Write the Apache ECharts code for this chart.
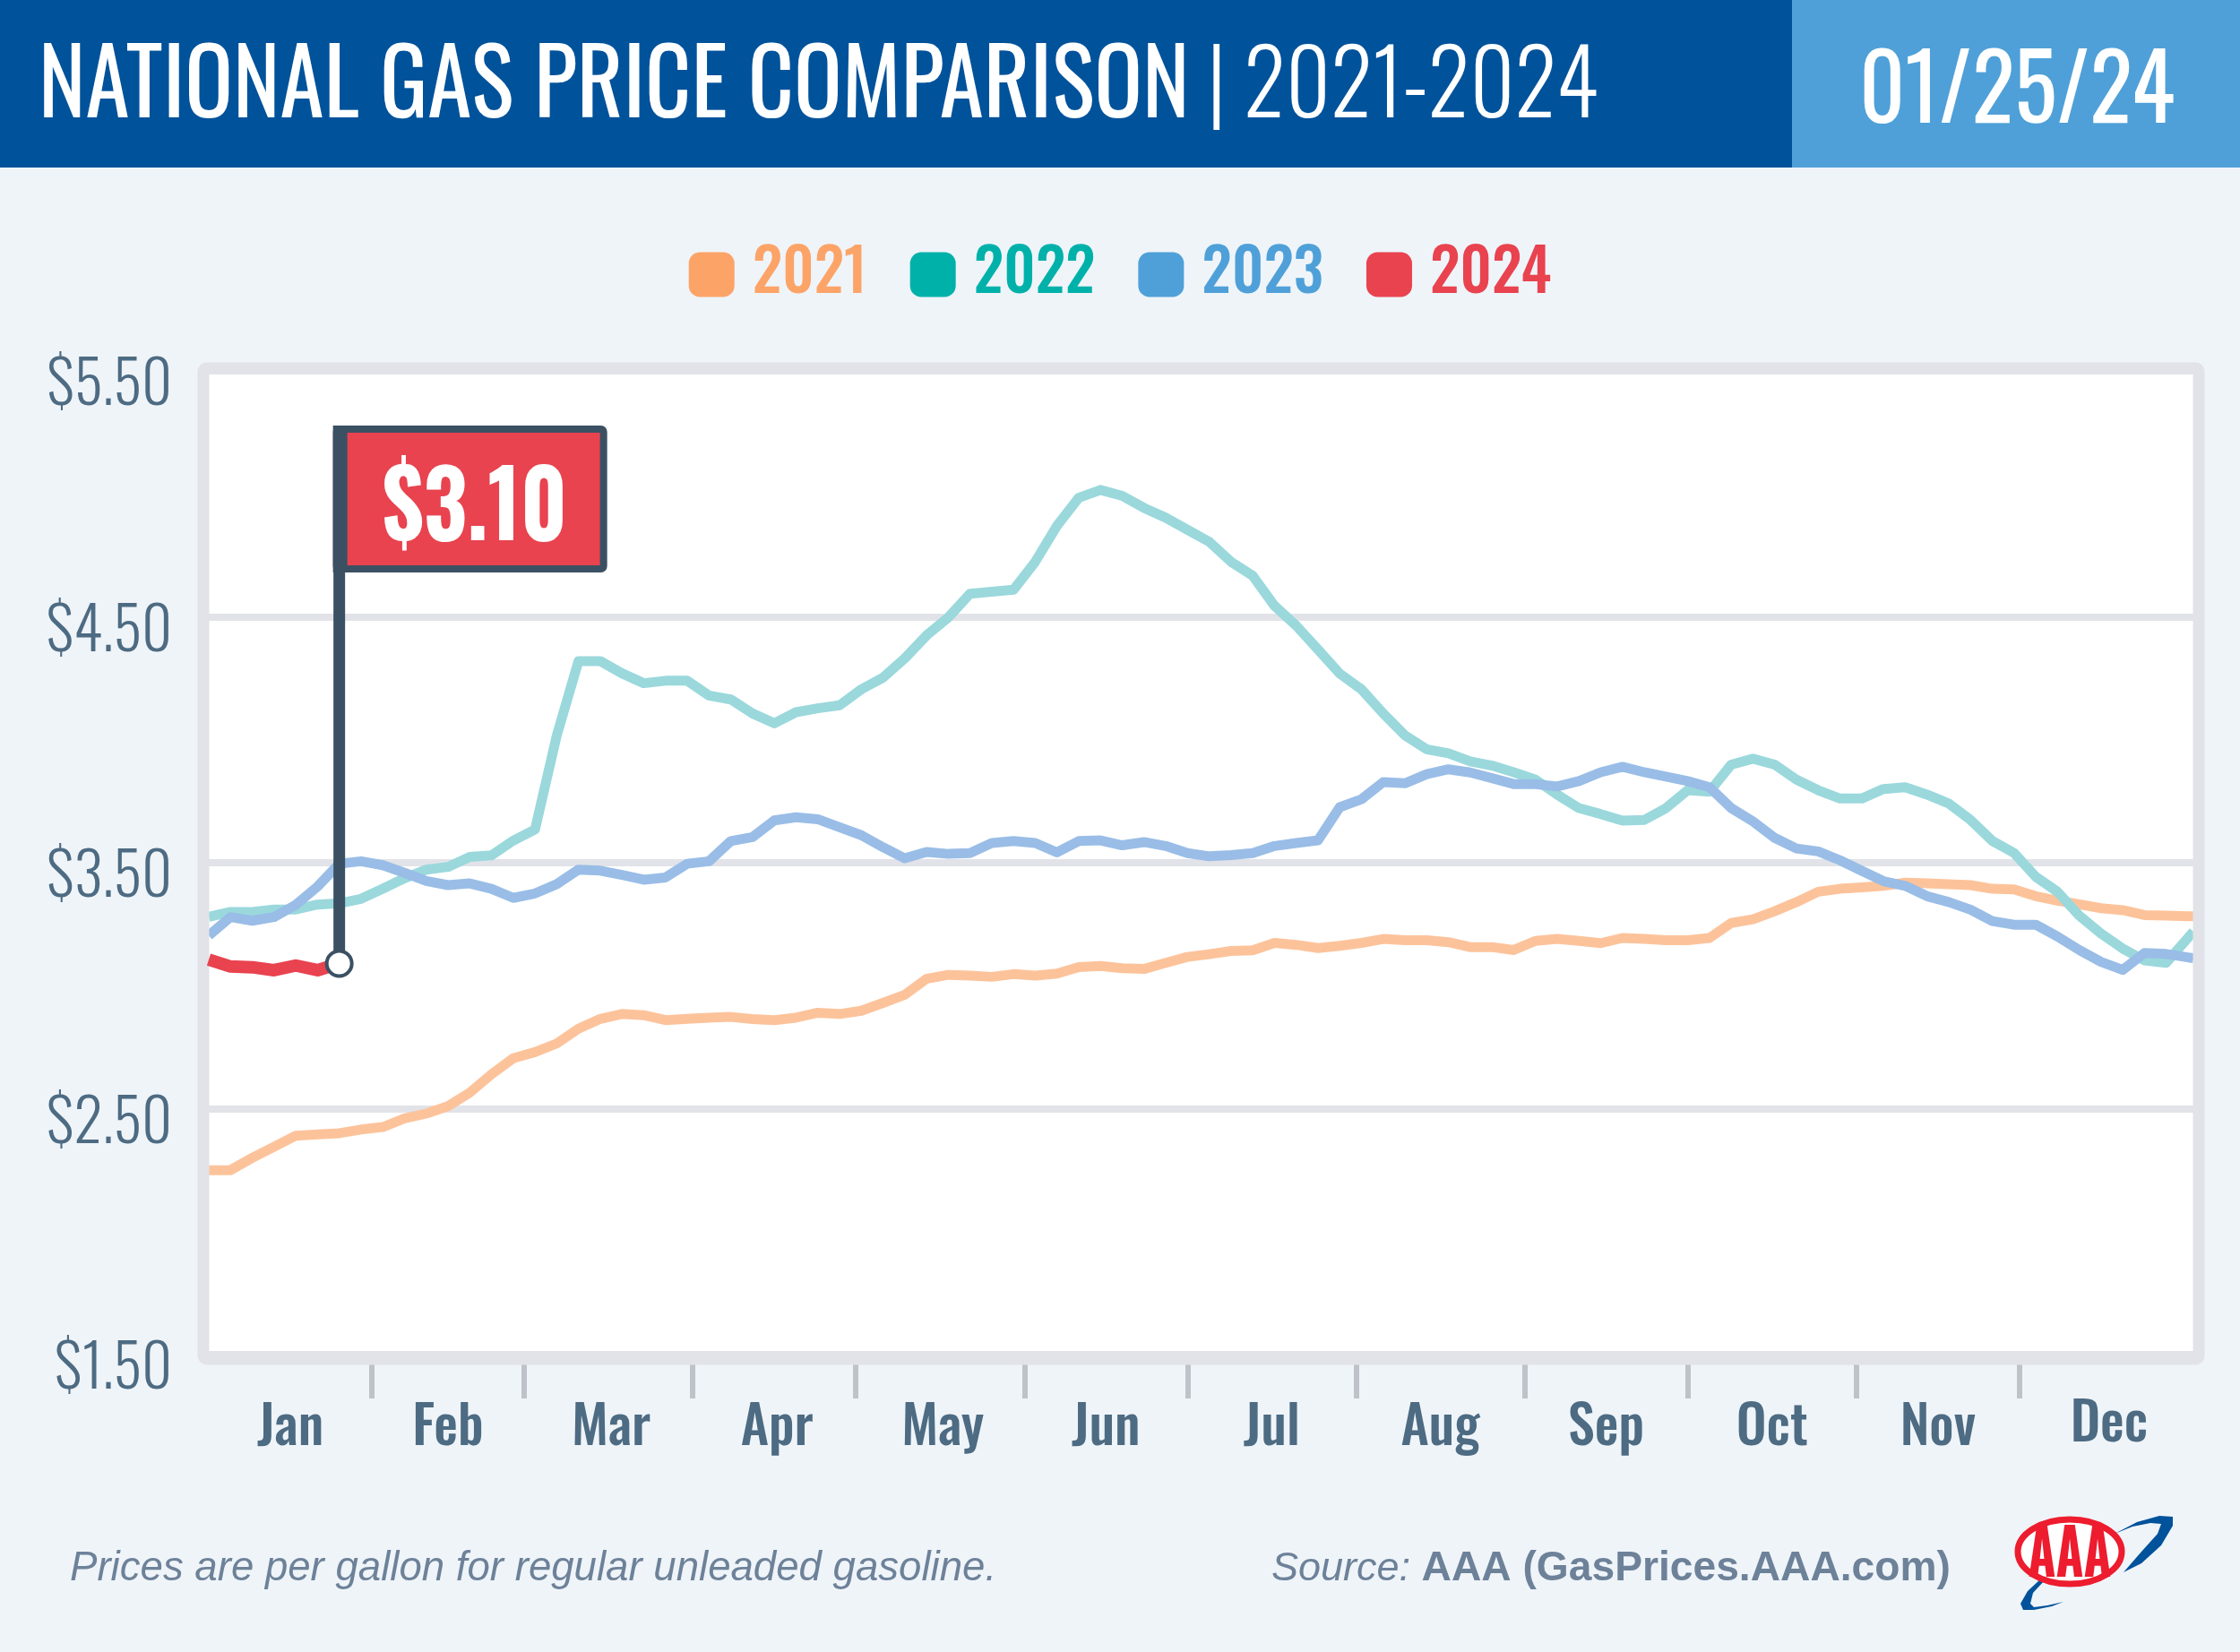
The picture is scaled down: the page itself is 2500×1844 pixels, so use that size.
<!DOCTYPE html>
<html>
<head>
<meta charset="utf-8">
<title>National Gas Price Comparison</title>
<script src="https://cdn.jsdelivr.net/npm/echarts@6/dist/echarts.min.js"></script>
<style>
html,body{margin:0;padding:0;background:#eff4f9;}
#main{width:2500px;height:1844px;}
</style>
</head>
<body>
<div id="main"></div>
<script>
// day of the year for each reading
var days = [1,5,9,13,17,21,25,29,33,37,41,45,49,53,57,61,65,69,73,77,81,85,89,93,97,101,105,109,113,117,121,125,129,133,137,141,145,149,153,157,161,165,169,173,177,181,185,189,193,197,201,205,209,213,217,221,225,229,233,237,241,245,249,253,257,261,265,269,273,277,281,285,289,293,297,301,305,309,313,317,321,325,329,333,337,341,345,349,353,357,361,365,366];
var prices2021 = [2.25,2.25,2.30,2.345,2.39,2.395,2.40,2.415,2.425,2.46,2.48,2.51,2.565,2.64,2.705,2.73,2.765,2.825,2.865,2.885,2.88,2.86,2.865,2.87,2.873,2.864,2.86,2.87,2.89,2.885,2.898,2.93,2.963,3.028,3.044,3.041,3.036,3.047,3.041,3.049,3.076,3.08,3.071,3.068,3.093,3.117,3.128,3.141,3.144,3.174,3.166,3.153,3.162,3.174,3.19,3.185,3.185,3.177,3.157,3.157,3.145,3.182,3.19,3.182,3.173,3.194,3.19,3.185,3.185,3.194,3.255,3.27,3.303,3.34,3.382,3.394,3.40,3.406,3.419,3.416,3.413,3.409,3.394,3.392,3.364,3.346,3.331,3.315,3.307,3.287,3.285,3.282,3.282];
var prices2022 = [3.28,3.30,3.30,3.31,3.31,3.33,3.335,3.353,3.394,3.437,3.472,3.483,3.524,3.53,3.59,3.635,4.017,4.32,4.32,4.27,4.23,4.24,4.24,4.18,4.164,4.107,4.067,4.112,4.128,4.14,4.205,4.253,4.331,4.424,4.497,4.594,4.602,4.61,4.724,4.87,4.984,5.016,4.992,4.943,4.903,4.854,4.805,4.724,4.667,4.545,4.464,4.367,4.269,4.205,4.107,4.018,3.961,3.945,3.912,3.895,3.868,3.838,3.777,3.722,3.698,3.671,3.674,3.722,3.795,3.789,3.899,3.923,3.899,3.838,3.795,3.761,3.761,3.80,3.807,3.777,3.741,3.674,3.589,3.54,3.443,3.382,3.285,3.212,3.151,3.103,3.093,3.194,3.22];
var prices2023 = [3.204,3.279,3.264,3.279,3.329,3.403,3.496,3.506,3.49,3.459,3.426,3.409,3.416,3.394,3.357,3.375,3.413,3.472,3.468,3.45,3.431,3.44,3.496,3.506,3.588,3.604,3.672,3.685,3.677,3.644,3.612,3.563,3.518,3.544,3.536,3.539,3.58,3.588,3.58,3.542,3.588,3.591,3.571,3.584,3.568,3.539,3.526,3.531,3.539,3.568,3.58,3.591,3.726,3.758,3.828,3.823,3.86,3.88,3.867,3.844,3.82,3.82,3.81,3.832,3.868,3.89,3.868,3.85,3.832,3.807,3.722,3.668,3.601,3.558,3.546,3.51,3.467,3.425,3.406,3.364,3.34,3.309,3.263,3.248,3.248,3.20,3.145,3.097,3.064,3.133,3.129,3.115,3.112];
var prices2024 = [3.106,3.078,3.075,3.063,3.082,3.063,3.09];
var months = ['Jan','Feb','Mar','Apr','May','Jun','Jul','Aug','Sep','Oct','Nov','Dec'];
var monthMids = [16,45,75,105.5,136,166,196.5,227.5,258,288.5,319,350.5];
var monthTicks = [31,59,90,120,151,181,212,243,273,304,334];
var priceTicks = [1.5,2.5,3.5,4.5,5.5];
var yearNames = ['2021','2022','2023','2024'];
var legendColors = ['#fca468','#00b1aa','#4fa0d8','#e8434f'];
var lineColors = ['#fcc39b','#9ad8dc','#99bde6','#e8434f'];

var narrow = 'Oswald,"Roboto Condensed",sans-serif';
var plain = '"Liberation Sans",Arial,sans-serif';
var slate = '#4d6b82';
var flagDark = '#3b5163';

function pairs(values) {
    var arr = [];
    for (var i = 0; i < values.length; i++) {
        arr.push([days[i], values[i]]);
    }
    return arr;
}

function makeSeries(i, values) {
    return {
        name: yearNames[i],
        type: 'line',
        data: pairs(values),
        showSymbol: false,
        symbol: 'none',
        smooth: false,
        silent: true,
        clip: true,
        z: 2 + i,
        lineStyle: {color: lineColors[i], width: i == 3 ? 14 : 11, join: 'round', cap: 'butt'},
        itemStyle: {color: legendColors[i]}
    };
}

var legendData = [];
for (var n = 0; n < yearNames.length; n++) {
    legendData.push({name: yearNames[n], textStyle: {color: legendColors[n]}});
}

var chart = echarts.init(document.getElementById('main'), null, {renderer: 'canvas'});

var option = {
    animation: false,
    backgroundColor: '#eff4f9',
    grid: {left: 233, right: 52, top: 414, bottom: 332, show: true, backgroundColor: '#fff', borderWidth: 0},
    legend: {
        data: legendData,
        top: 268,
        left: 'center',
        itemWidth: 51,
        itemHeight: 50,
        itemGap: 48,
        icon: 'roundRect',
        selectedMode: false,
        textStyle: {fontFamily: narrow, fontSize: 67, fontWeight: 500, padding: [0, 0, 12, 15]}
    },
    xAxis: {
        type: 'value',
        min: 1,
        max: 366,
        splitLine: {show: false},
        axisLine: {show: false},
        axisTick: {show: true, customValues: monthTicks, length: 49, lineStyle: {color: '#bfc3c9', width: 6}},
        axisLabel: {
            customValues: monthMids,
            hideOverlap: false,
            margin: 53,
            color: slate,
            fontFamily: narrow,
            fontWeight: 500,
            fontSize: 60,
            rich: {
                dec: {color: slate, fontFamily: narrow, fontWeight: 500, fontSize: 60, lineHeight: 52}
            },
            formatter: function (value) {
                var name = months[monthMids.indexOf(value)];
                return name == 'Dec' ? '{dec|' + name + '}' : name;
            }
        }
    },
    yAxis: {
        type: 'value',
        min: 1.5,
        max: 5.5,
        axisLine: {show: false},
        axisTick: {show: false, customValues: priceTicks},
        splitLine: {show: true, lineStyle: {color: '#e1e3e8', width: 8}},
        axisLabel: {
            customValues: priceTicks,
            margin: 41,
            color: slate,
            fontFamily: narrow,
            fontWeight: 300,
            fontSize: 66,
            verticalAlign: 'top',
            lineHeight: 36,
            formatter: function (value) {
                return '$' + value.toFixed(2);
            }
        }
    },
    series: [
        makeSeries(0, prices2021),
        makeSeries(1, prices2022),
        makeSeries(2, prices2023),
        makeSeries(3, prices2024)
    ]
};
chart.setOption(option);

// header, frame, flag and logo go on top
function drawExtras() {
    var last = prices2024.length - 1;
    var pt = chart.convertToPixel({gridIndex: 0}, [days[last], prices2024[last]]);
    chart.setOption({
        graphic: [
            {type: 'rect', z: 10, shape: {x: 0, y: 0, width: 2000, height: 187}, style: {fill: '#00529b'}},
            {type: 'rect', z: 10, shape: {x: 2000, y: 0, width: 500, height: 187}, style: {fill: '#4fa0d8'}},
            {
                type: 'text', z: 11, x: 43, y: 100, scaleX: 0.967,
                style: {
                    text: '{a|NATIONAL GAS PRICE COMPARISON}{b| | 2021-2024}',
                    verticalAlign: 'middle',
                    rich: {
                        a: {fill: '#fff', fontFamily: narrow, fontSize: 103},
                        b: {fill: '#fff', fontFamily: narrow, fontSize: 100, fontWeight: 300}
                    }
                }
            },
            {
                type: 'text', z: 11, x: 2251, y: 106, scaleX: 0.975,
                style: {text: '01/25/24', fill: '#fff', fontFamily: narrow, fontSize: 102, align: 'center', verticalAlign: 'middle'}
            },
            // chart frame
            {
                type: 'rect', z: 5,
                shape: {x: 227, y: 411, width: 2227, height: 1106, r: 4},
                style: {fill: 'none', stroke: '#e1e3e8', lineWidth: 13}
            },
            // flag
            {type: 'rect', z: 6, shape: {x: pt[0] - 6.5, y: 475, width: 13, height: pt[1] - 475}, style: {fill: flagDark}},
            {
                type: 'rect', z: 6,
                shape: {x: pt[0] - 3, y: 479, width: 298, height: 156, r: 3},
                style: {fill: '#e8434f', stroke: flagDark, lineWidth: 8}
            },
            {type: 'rect', z: 6, shape: {x: pt[0] - 7, y: 475, width: 16, height: 164}, style: {fill: flagDark}},
            {
                type: 'text', z: 7, x: 530, y: 571, scaleX: 0.91,
                style: {text: '$3.10', fill: '#fff', fontFamily: narrow, fontWeight: 'bold', fontSize: 104, align: 'center', verticalAlign: 'middle'}
            },
            {
                type: 'circle', z: 7,
                shape: {cx: pt[0], cy: pt[1], r: 14},
                style: {fill: '#fff', stroke: flagDark, lineWidth: 4}
            },
            // footer
            {
                type: 'text', z: 7, x: 78, y: 1751,
                style: {text: 'Prices are per gallon for regular unleaded gasoline.', fill: '#6d8299', fontFamily: plain, fontStyle: 'italic', fontSize: 45.6, verticalAlign: 'middle'}
            },
            {
                type: 'text', z: 7, x: 1419, y: 1751,
                style: {
                    text: '{a|Source: }{b|AAA (GasPrices.AAA.com)}',
                    verticalAlign: 'middle',
                    rich: {
                        a: {fill: '#6d8299', fontFamily: plain, fontStyle: 'italic', fontSize: 45},
                        b: {fill: '#6d8299', fontFamily: plain, fontWeight: 'bold', fontSize: 46.2}
                    }
                }
            },
            // logo
            {
                type: 'polygon', z: 7,
                shape: {points: [[2360,1712],[2385,1699],[2410,1692],[2425,1693],[2425,1703],[2412,1725],[2390,1745],[2370,1755],[2390,1732],[2408,1712],[2412,1701],[2400,1700],[2380,1704]]},
                style: {fill: '#00529b'}
            },
            {
                type: 'polygon', z: 7,
                shape: {points: [[2277,1763],[2263,1776],[2255,1790],[2258,1797],[2270,1797],[2290,1793],[2303,1788],[2285,1792],[2270,1794],[2266,1790],[2269,1778],[2282,1764]]},
                style: {fill: '#00529b'}
            },
            {
                type: 'ellipse', z: 8,
                shape: {cx: 2310, cy: 1732, rx: 58, ry: 36},
                style: {fill: '#fff', stroke: '#ed1c2e', lineWidth: 7}
            },
            {
                type: 'text', z: 9, x: 2310, y: 1738, scaleX: 0.78,
                style: {text: 'AAA', fill: '#ed1c2e', fontFamily: narrow, fontWeight: 'bold', fontSize: 72, align: 'center', verticalAlign: 'middle'}
            }
        ]
    });
}
drawExtras();
</script>
</body>
</html>
